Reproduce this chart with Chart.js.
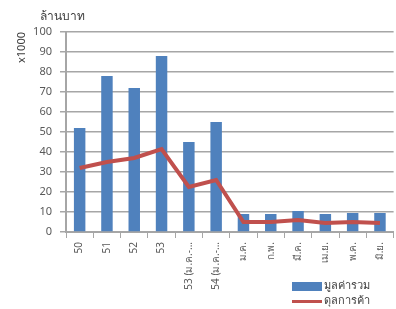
<!DOCTYPE html>
<html>
<head>
<meta charset="utf-8">
<script src="https://cdn.jsdelivr.net/npm/chart.js@4/dist/chart.umd.min.js"></script>
<style>
  body { margin: 0; background: #fff; font-family: Tahoma, "Noto Sans", sans-serif; }
  #wrap { position: relative; width: 396px; height: 309px; }
  #unit { position: absolute; left: 40px; top: 6px; font-size: 12px; color: #404040; }
  #legend { position: absolute; left: 292px; top: 277px; font-size: 11px; color: #404040; }
  #legend div { height: 15px; line-height: 15px; white-space: nowrap; }
  #legend span.box { display: inline-block; width: 30px; height: 9px; background: #4f81bd; vertical-align: middle; margin-right: 2px; }
  #legend span.ln { display: inline-block; width: 30px; height: 3px; background: #c0504d; vertical-align: middle; margin-right: 2px; }
</style>
</head>
<body>
<div id="wrap">
  <canvas id="c" width="396" height="309"></canvas>
  <div id="unit">ล้านบาท</div>
  <div id="legend">
    <div><span class="box"></span>มูลค่ารวม</div>
    <div><span class="ln"></span>ดุลการค้า</div>
  </div>
</div>
<script>
const labels = ["50", "51", "52", "53", "53 (ม.ค.-...", "54 (ม.ค.-...", "ม.ค.", "ก.พ.", "มี.ค.", "เม.ย.", "พ.ค.", "มิ.ย."];
const totalValue = [52, 78, 72, 88, 45, 55, 9, 9, 10.5, 9, 9.5, 9.5];
const tradeBalance = [32, 35, 37, 41.5, 22.5, 26, 5, 5, 6, 4.5, 5, 4.5];

const gridColor = "#a6a6a6";
const tickColor = "#595959";

new Chart(document.getElementById("c"), {
  data: {
    labels: labels,
    datasets: [
      {
        type: "line",
        label: "ดุลการค้า",
        data: tradeBalance,
        borderColor: "#c0504d",
        borderWidth: 4,
        pointRadius: 0,
        tension: 0,
      },
      {
        type: "bar",
        label: "มูลค่ารวม",
        data: totalValue,
        backgroundColor: "#4f81bd",
        barPercentage: 0.42,
        categoryPercentage: 1,
      },
    ],
  },
  options: {
    responsive: false,
    animation: false,
    layout: { padding: { top: 32, right: 1, left: 0, bottom: 0 } },
    plugins: { legend: { display: false }, tooltip: { enabled: false } },
    scales: {
      x: {
        grid: { drawOnChartArea: false, color: gridColor, tickLength: 6 },
        border: { color: gridColor, width: 2 },
        ticks: {
          color: tickColor,
          font: { size: 10, family: "Tahoma, 'Noto Sans', sans-serif" },
          padding: 4,
          minRotation: 90,
          maxRotation: 90,
          autoSkip: false,
        },
        afterFit: (s) => { s.height = 77; },
      },
      y: {
        min: 0,
        max: 100,
        ticks: {
          stepSize: 10,
          color: tickColor,
          font: { size: 11, family: "Tahoma, 'Noto Sans', sans-serif" },
          padding: 8,
        },
        grid: { color: gridColor, lineWidth: 1.5, tickLength: 6 },
        border: { color: gridColor, width: 2 },
        title: {
          display: true,
          text: "x1000",
          align: "end",
          color: "#404040",
          font: { size: 11, family: "Tahoma, 'Noto Sans', sans-serif" },
          padding: { top: 15, bottom: 4 },
        },
        afterFit: (s) => { s.width = 66; },
      },
    },
  },
});
</script>
</body>
</html>
